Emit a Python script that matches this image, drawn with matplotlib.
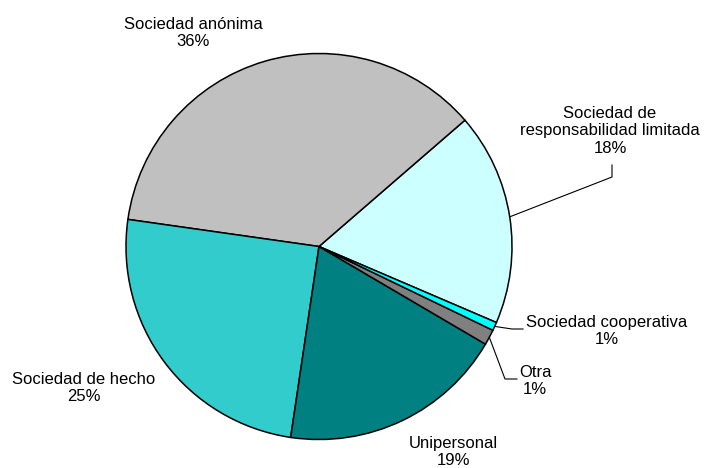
import numpy as np
import matplotlib.pyplot as plt

plt.rcParams['font.family'] = ['Liberation Sans', 'DejaVu Sans']

# pie data, counter-clockwise starting from the right
categories = ['Sociedad de\nresponsabilidad limitada', 'Sociedad anónima',
              'Sociedad de hecho', 'Unipersonal', 'Otra',
              'Sociedad cooperativa']
values = [17.8, 36.4, 24.9, 18.9, 1.3, 0.7]
colors = ['#CCFFFF', '#C0C0C0', '#33CCCC', '#008080', '#808080', '#00FFFF']

W, H = 704, 468
CX, CY, R = 319, 246.5, 193.0


def px(x, y):
    # figure pixel (from top-left) -> data coords of the pie axes
    return (x - CX) / R, (CY - y) / R


fig = plt.figure(figsize=(W / 100, H / 100), dpi=100)
ax = fig.add_axes([0, 0, 1, 1])

wedges, _ = ax.pie(values, colors=colors, startangle=-23.2, counterclock=True,
                   radius=1, center=(0, 0), frame=True,
                   wedgeprops={'edgecolor': 'black', 'linewidth': 1.1})
ax.set_xlim(-CX / R, (W - CX) / R)
ax.set_ylim(-(H - CY) / R, CY / R)
ax.set_aspect('auto')
ax.axis('off')

# label centre positions (pixels) and optional leader elbows
label_pos = [(610, 131), (193, 33), (84, 388), (453, 452), (535, 381),
             (607, 331)]
elbows = {0: [(612, 177), (612, 165)],
          4: [(505, 379), (517, 379)],
          5: [(512, 329), (523, 329)]}

for i, w in enumerate(wedges):
    pct = '%.0f%%' % values[i]
    txt = categories[i] + '\n' + pct
    x, y = px(*label_pos[i])
    ax.text(x, y, txt, ha='center', va='center', fontsize=12,
            linespacing=1.2)
    if i in elbows:
        mid = np.deg2rad((w.theta1 + w.theta2) / 2)
        xs = [np.cos(mid)] + [px(*p)[0] for p in elbows[i]]
        ys = [np.sin(mid)] + [px(*p)[1] for p in elbows[i]]
        ax.plot(xs, ys, color='black', linewidth=0.8)

fig.savefig('out.png', dpi=100)
